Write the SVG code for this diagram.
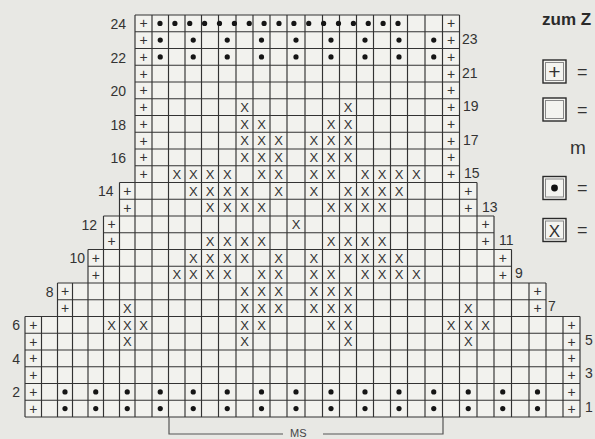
<svg xmlns="http://www.w3.org/2000/svg" width="595" height="439" viewBox="0 0 595 439">
<style>
.bg{fill:#e8e8e4}
.area{fill:#f2f2ee}
.gl{fill:none;stroke:#333;stroke-width:1.15}
.t{font-family:"Liberation Sans",Arial,sans-serif;fill:#333}
.p{font-size:14px;text-anchor:middle}
.x{font-size:13px;text-anchor:middle}
.d{fill:#151515}
.ll{font-size:14px;text-anchor:end}
.rl{font-size:14px;text-anchor:start}
.lb{fill:#f4f4f0;stroke:#2a2a2a;stroke-width:1.4}
.lbi{fill:none;stroke:#888;stroke-width:1}
.ms{fill:none;stroke:#555;stroke-width:1.2}
</style>
<rect class="bg" x="0" y="0" width="595" height="439"/>
<g id="grid">
<path class="area" d="M25,417V316.5H57.5V283H88V249.5H103.5V216H119.5V182.5H135V15H459.5V182.5H477V216H494V249.5H511.5V283H546V316.5H580V417Z"/>
<path class="gl" d="M25,316.5V417M41.5,316.5V417M57.5,283V417M72.5,283V417M88,249.5V417M103.5,216V417M119.5,182.5V417M135,15V417M152,15V417M168.5,15V417M185,15V417M201.5,15V417M218.5,15V417M236,15V417M253,15V417M270,15V417M287,15V417M305,15V417M322.5,15V417M339.5,15V417M356.5,15V417M373.5,15V417M390.5,15V417M407.5,15V417M425,15V417M442.5,15V417M459.5,15V417M477,182.5V417M494,216V417M511.5,249.5V417M529,283V417M546,283V417M563,316.5V417M580,316.5V417"/>
<path class="gl" d="M135,15H459.5M135,31.75H459.5M135,48.5H459.5M135,65.25H459.5M135,82H459.5M135,98.75H459.5M135,115.5H459.5M135,132.25H459.5M135,149H459.5M135,165.75H459.5M119.5,182.5H477M119.5,199.25H477M103.5,216H494M103.5,232.75H494M88,249.5H511.5M88,266.25H511.5M57.5,283H546M57.5,299.75H546M25,316.5H580M25,333.25H580M25,350H580M25,366.75H580M25,383.5H580M25,400.25H580M25,417H580"/>
</g>
<g id="plus" class="t p">
<text x="143.5" y="28.3">+</text><text x="451" y="28.3">+</text>
<text x="143.5" y="45">+</text><text x="451" y="45">+</text>
<text x="143.5" y="61.8">+</text><text x="451" y="61.8">+</text>
<text x="143.5" y="78.5">+</text><text x="451" y="78.5">+</text>
<text x="143.5" y="95.3">+</text><text x="451" y="95.3">+</text>
<text x="143.5" y="112">+</text><text x="451" y="112">+</text>
<text x="143.5" y="128.8">+</text><text x="451" y="128.8">+</text>
<text x="143.5" y="145.5">+</text><text x="451" y="145.5">+</text>
<text x="143.5" y="162.3">+</text><text x="451" y="162.3">+</text>
<text x="143.5" y="179">+</text><text x="451" y="179">+</text>
<text x="127.25" y="195.8">+</text><text x="468.25" y="195.8">+</text>
<text x="127.25" y="212.5">+</text><text x="468.25" y="212.5">+</text>
<text x="111.5" y="229.3">+</text><text x="485.5" y="229.3">+</text>
<text x="111.5" y="246">+</text><text x="485.5" y="246">+</text>
<text x="95.75" y="262.8">+</text><text x="502.75" y="262.8">+</text>
<text x="95.75" y="279.5">+</text><text x="502.75" y="279.5">+</text>
<text x="65" y="296.3">+</text><text x="537.5" y="296.3">+</text>
<text x="65" y="313">+</text><text x="537.5" y="313">+</text>
<text x="33.25" y="329.8">+</text><text x="571.5" y="329.8">+</text>
<text x="33.25" y="346.5">+</text><text x="571.5" y="346.5">+</text>
<text x="33.25" y="363.3">+</text><text x="571.5" y="363.3">+</text>
<text x="33.25" y="380">+</text><text x="571.5" y="380">+</text>
<text x="33.25" y="396.8">+</text><text x="571.5" y="396.8">+</text>
<text x="33.25" y="413.5">+</text><text x="571.5" y="413.5">+</text>
</g>
<g id="dots" class="d">
<circle cx="160" cy="23.4" r="2.6"/><circle cx="174.9" cy="23.4" r="2.6"/><circle cx="189.75" cy="23.4" r="2.6"/><circle cx="204.6" cy="23.4" r="2.6"/><circle cx="219.5" cy="23.4" r="2.6"/><circle cx="234.4" cy="23.4" r="2.6"/><circle cx="249.25" cy="23.4" r="2.6"/><circle cx="264.1" cy="23.4" r="2.6"/><circle cx="279" cy="23.4" r="2.6"/><circle cx="293.9" cy="23.4" r="2.6"/><circle cx="308.75" cy="23.4" r="2.6"/><circle cx="323.6" cy="23.4" r="2.6"/><circle cx="338.5" cy="23.4" r="2.6"/><circle cx="353.4" cy="23.4" r="2.6"/><circle cx="368.25" cy="23.4" r="2.6"/><circle cx="383.1" cy="23.4" r="2.6"/><circle cx="398" cy="23.4" r="2.6"/>
<circle cx="160.25" cy="40.1" r="2.6"/><circle cx="193.25" cy="40.1" r="2.6"/><circle cx="227.25" cy="40.1" r="2.6"/><circle cx="261.5" cy="40.1" r="2.6"/><circle cx="296" cy="40.1" r="2.6"/><circle cx="331" cy="40.1" r="2.6"/><circle cx="365" cy="40.1" r="2.6"/><circle cx="399" cy="40.1" r="2.6"/><circle cx="433.75" cy="40.1" r="2.6"/>
<circle cx="160.25" cy="56.9" r="2.6"/><circle cx="193.25" cy="56.9" r="2.6"/><circle cx="227.25" cy="56.9" r="2.6"/><circle cx="261.5" cy="56.9" r="2.6"/><circle cx="296" cy="56.9" r="2.6"/><circle cx="331" cy="56.9" r="2.6"/><circle cx="365" cy="56.9" r="2.6"/><circle cx="399" cy="56.9" r="2.6"/><circle cx="433.75" cy="56.9" r="2.6"/>
<circle cx="65" cy="391.9" r="2.6"/><circle cx="95.75" cy="391.9" r="2.6"/><circle cx="127.25" cy="391.9" r="2.6"/><circle cx="160.25" cy="391.9" r="2.6"/><circle cx="193.25" cy="391.9" r="2.6"/><circle cx="227.25" cy="391.9" r="2.6"/><circle cx="261.5" cy="391.9" r="2.6"/><circle cx="296" cy="391.9" r="2.6"/><circle cx="331" cy="391.9" r="2.6"/><circle cx="365" cy="391.9" r="2.6"/><circle cx="399" cy="391.9" r="2.6"/><circle cx="433.75" cy="391.9" r="2.6"/><circle cx="468.25" cy="391.9" r="2.6"/><circle cx="502.75" cy="391.9" r="2.6"/><circle cx="537.5" cy="391.9" r="2.6"/>
<circle cx="65" cy="408.6" r="2.6"/><circle cx="95.75" cy="408.6" r="2.6"/><circle cx="127.25" cy="408.6" r="2.6"/><circle cx="160.25" cy="408.6" r="2.6"/><circle cx="193.25" cy="408.6" r="2.6"/><circle cx="227.25" cy="408.6" r="2.6"/><circle cx="261.5" cy="408.6" r="2.6"/><circle cx="296" cy="408.6" r="2.6"/><circle cx="331" cy="408.6" r="2.6"/><circle cx="365" cy="408.6" r="2.6"/><circle cx="399" cy="408.6" r="2.6"/><circle cx="433.75" cy="408.6" r="2.6"/><circle cx="468.25" cy="408.6" r="2.6"/><circle cx="502.75" cy="408.6" r="2.6"/><circle cx="537.5" cy="408.6" r="2.6"/>
</g>
<g id="crosses" class="t x">
<text x="244.5" y="111.7">X</text><text x="348" y="111.7">X</text>
<text x="244.5" y="128.5">X</text><text x="261.5" y="128.5">X</text><text x="331" y="128.5">X</text><text x="348" y="128.5">X</text>
<text x="244.5" y="145.2">X</text><text x="261.5" y="145.2">X</text><text x="278.5" y="145.2">X</text><text x="313.75" y="145.2">X</text><text x="331" y="145.2">X</text><text x="348" y="145.2">X</text>
<text x="244.5" y="162">X</text><text x="261.5" y="162">X</text><text x="278.5" y="162">X</text><text x="313.75" y="162">X</text><text x="331" y="162">X</text><text x="348" y="162">X</text>
<text x="176.75" y="178.7">X</text><text x="193.25" y="178.7">X</text><text x="210" y="178.7">X</text><text x="227.25" y="178.7">X</text><text x="261.5" y="178.7">X</text><text x="278.5" y="178.7">X</text><text x="313.75" y="178.7">X</text><text x="331" y="178.7">X</text><text x="365" y="178.7">X</text><text x="382" y="178.7">X</text><text x="399" y="178.7">X</text><text x="416.25" y="178.7">X</text>
<text x="193.25" y="195.5">X</text><text x="210" y="195.5">X</text><text x="227.25" y="195.5">X</text><text x="244.5" y="195.5">X</text><text x="278.5" y="195.5">X</text><text x="313.75" y="195.5">X</text><text x="348" y="195.5">X</text><text x="365" y="195.5">X</text><text x="382" y="195.5">X</text><text x="399" y="195.5">X</text>
<text x="210" y="212.2">X</text><text x="227.25" y="212.2">X</text><text x="244.5" y="212.2">X</text><text x="261.5" y="212.2">X</text><text x="331" y="212.2">X</text><text x="348" y="212.2">X</text><text x="365" y="212.2">X</text><text x="382" y="212.2">X</text>
<text x="296" y="229">X</text>
<text x="210" y="245.7">X</text><text x="227.25" y="245.7">X</text><text x="244.5" y="245.7">X</text><text x="261.5" y="245.7">X</text><text x="331" y="245.7">X</text><text x="348" y="245.7">X</text><text x="365" y="245.7">X</text><text x="382" y="245.7">X</text>
<text x="193.25" y="262.5">X</text><text x="210" y="262.5">X</text><text x="227.25" y="262.5">X</text><text x="244.5" y="262.5">X</text><text x="278.5" y="262.5">X</text><text x="313.75" y="262.5">X</text><text x="348" y="262.5">X</text><text x="365" y="262.5">X</text><text x="382" y="262.5">X</text><text x="399" y="262.5">X</text>
<text x="176.75" y="279.2">X</text><text x="193.25" y="279.2">X</text><text x="210" y="279.2">X</text><text x="227.25" y="279.2">X</text><text x="261.5" y="279.2">X</text><text x="278.5" y="279.2">X</text><text x="313.75" y="279.2">X</text><text x="331" y="279.2">X</text><text x="365" y="279.2">X</text><text x="382" y="279.2">X</text><text x="399" y="279.2">X</text><text x="416.25" y="279.2">X</text>
<text x="244.5" y="296">X</text><text x="261.5" y="296">X</text><text x="278.5" y="296">X</text><text x="313.75" y="296">X</text><text x="331" y="296">X</text><text x="348" y="296">X</text>
<text x="127.25" y="312.7">X</text><text x="244.5" y="312.7">X</text><text x="261.5" y="312.7">X</text><text x="278.5" y="312.7">X</text><text x="313.75" y="312.7">X</text><text x="331" y="312.7">X</text><text x="348" y="312.7">X</text><text x="468.25" y="312.7">X</text>
<text x="111.5" y="329.5">X</text><text x="127.25" y="329.5">X</text><text x="143.5" y="329.5">X</text><text x="244.5" y="329.5">X</text><text x="261.5" y="329.5">X</text><text x="331" y="329.5">X</text><text x="348" y="329.5">X</text><text x="451" y="329.5">X</text><text x="468.25" y="329.5">X</text><text x="485.5" y="329.5">X</text>
<text x="127.25" y="346.2">X</text><text x="244.5" y="346.2">X</text><text x="348" y="346.2">X</text><text x="468.25" y="346.2">X</text>
</g>
<g id="row-labels" class="t">
<text class="ll" x="126" y="29.4">24</text>
<text class="ll" x="126" y="62.9">22</text>
<text class="ll" x="126" y="96.4">20</text>
<text class="ll" x="126" y="129.9">18</text>
<text class="ll" x="126" y="163.4">16</text>
<text class="ll" x="113.5" y="196.4">14</text>
<text class="ll" x="97" y="229.9">12</text>
<text class="ll" x="85" y="263.4">10</text>
<text class="ll" x="53.5" y="296.9">8</text>
<text class="ll" x="20" y="330.4">6</text>
<text class="ll" x="20" y="363.9">4</text>
<text class="ll" x="20" y="397.4">2</text>
<text class="rl" x="462" y="44.1">23</text>
<text class="rl" x="462" y="77.6">21</text>
<text class="rl" x="463" y="111.1">19</text>
<text class="rl" x="463" y="144.6">17</text>
<text class="rl" x="464" y="178.1">15</text>
<text class="rl" x="482" y="211.6">13</text>
<text class="rl" x="499" y="245.1">11</text>
<text class="rl" x="515" y="277.6">9</text>
<text class="rl" x="548" y="311">7</text>
<text class="rl" x="585" y="344.5">5</text>
<text class="rl" x="585" y="378">3</text>
<text class="rl" x="585" y="411.5">1</text>
</g>
<g id="ms-bracket">
<path class="ms" d="M169,417V434H283M323,434H443V417"/>
<text class="t" x="290" y="436.5" style="font-size:11px;fill:#444">MS</text>
</g>
<g id="legend">
<text class="t" x="542" y="25" style="font-size:17px;font-weight:bold;fill:#2a2a2a">zum Z</text>
<rect class="lb" x="543" y="60" width="23" height="23"/><rect class="lbi" x="545.5" y="62.5" width="18" height="18"/>
<text class="t" x="554.5" y="79" style="font-size:21px;text-anchor:middle">+</text>
<text class="t" x="577" y="77.7" style="font-size:18px">=</text>
<rect class="lb" x="543" y="98" width="23" height="23"/><rect class="lbi" x="545.5" y="100.5" width="18" height="18"/>
<text class="t" x="577" y="115.7" style="font-size:18px">=</text>
<text class="t" x="570" y="154" style="font-size:19px">m</text>
<rect class="lb" x="543" y="176.5" width="23" height="23"/><rect class="lbi" x="545.5" y="179" width="18" height="18"/>
<circle cx="554.5" cy="188" r="3.4" fill="#111"/>
<text class="t" x="577" y="194" style="font-size:18px">=</text>
<rect class="lb" x="543" y="218.5" width="23" height="23"/><rect class="lbi" x="545.5" y="221" width="18" height="18"/>
<text class="t" x="554.5" y="236.5" style="font-size:17px;text-anchor:middle">X</text>
<text class="t" x="577" y="236" style="font-size:18px">=</text>
</g>
</svg>
